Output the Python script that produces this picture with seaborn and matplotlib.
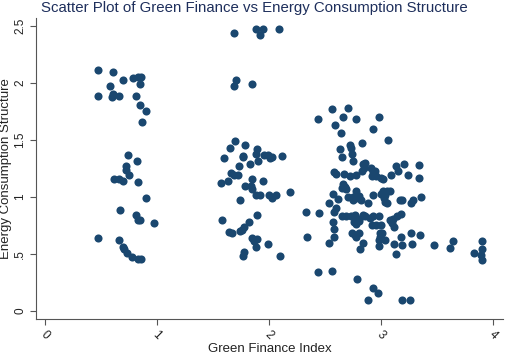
import pandas as pd
import seaborn as sns
import matplotlib.pyplot as plt

# cluster around 0.5-1.0
gf_1 = [0.47, 0.61, 0.58, 0.70, 0.79, 0.83, 0.86, 0.85, 0.47, 0.60, 0.61, 0.66, 0.81, 0.85, 0.90, 0.87,
        0.74, 0.82, 0.72, 0.72, 0.75, 0.62, 0.66, 0.70, 0.83, 0.90, 0.67, 0.81, 0.83, 0.85, 0.97,
        0.47, 0.66, 0.70, 0.71, 0.73, 0.78, 0.83, 0.86]
ec_1 = [2.11, 2.10, 1.97, 2.03, 2.04, 2.05, 2.05, 1.99, 1.89, 1.88, 1.90, 1.89, 1.89, 1.81, 1.75, 1.66,
        1.37, 1.32, 1.27, 1.24, 1.19, 1.16, 1.16, 1.14, 1.13, 0.99, 0.89, 0.84, 0.80, 0.80, 0.77,
        0.64, 0.62, 0.56, 0.54, 0.51, 0.47, 0.46, 0.46]

# cluster around 1.6-2.2
gf_2 = [1.69, 1.88, 1.95, 1.92, 2.09, 1.71, 1.69, 1.85,
        1.70, 1.65, 1.79, 1.60, 1.77, 1.77, 1.89, 1.88, 1.96, 1.99, 2.01, 2.03, 2.12, 1.90, 1.83, 1.73,
        1.66, 1.69, 1.72, 1.57, 1.63, 1.85, 1.95, 1.79, 1.84, 1.85, 1.88, 1.92, 2.00, 2.03, 2.06, 2.19, 1.74,
        1.58, 1.89, 1.82, 1.78, 1.76, 1.74, 1.64, 1.67, 1.85, 1.89, 1.87, 1.99, 1.88, 1.78, 1.77, 2.10]
ec_2 = [2.44, 2.47, 2.47, 2.42, 2.47, 2.03, 1.97, 1.99,
        1.49, 1.43, 1.46, 1.34, 1.36, 1.35, 1.42, 1.38, 1.37, 1.37, 1.34, 1.35, 1.36, 1.32, 1.29, 1.27,
        1.21, 1.19, 1.19, 1.12, 1.14, 1.16, 1.14, 1.10, 1.10, 1.07, 1.02, 1.02, 1.02, 0.99, 1.02, 1.04, 0.97,
        0.80, 0.84, 0.78, 0.74, 0.71, 0.70, 0.69, 0.68, 0.64, 0.63, 0.61, 0.59, 0.56, 0.52, 0.48, 0.48]

# cluster around 2.3-3.9
gf_3 = [2.44, 2.56, 2.71, 2.66, 2.78, 2.59, 2.98, 2.93, 2.64, 3.06, 2.83, 2.72, 2.73, 2.63, 2.74, 2.65, 2.75, 2.84,
        2.58, 2.60, 2.67, 2.72, 2.78, 2.83, 2.86, 2.85, 2.91, 2.93, 2.95, 2.92, 2.96, 3.00, 3.02, 3.09, 3.13,
        3.15, 3.21, 3.24, 3.34, 3.34,
        2.66, 2.68, 2.65, 2.69, 2.57, 2.62, 2.71, 2.75, 2.78, 2.80, 2.75, 2.82, 2.54, 2.78, 2.88,
        2.93, 3.00, 3.02, 3.04, 3.05, 3.08, 3.03, 3.05, 3.19, 3.29, 3.36, 3.04, 3.17, 3.27,
        2.33, 2.45, 2.58, 2.60, 2.65, 2.69, 2.73, 2.77, 2.80, 2.84, 2.86, 2.90, 2.93, 2.98, 3.08, 3.11, 3.14,
        3.18, 3.10, 3.12, 2.76, 2.78, 2.80,
        2.57, 2.58, 2.92, 2.96, 3.00, 3.01, 2.74, 2.77, 2.80, 2.78, 2.99, 2.99, 3.27, 3.35, 3.18,
        2.34, 2.54, 2.58, 2.84, 2.81, 2.98, 2.98, 3.04, 3.12, 3.19, 3.28, 3.47, 3.13, 3.64, 3.62,
        3.90, 3.90, 3.89, 3.90, 3.83,
        2.44, 2.56, 2.79, 2.93, 2.97, 2.88, 3.19, 3.26]
ec_3 = [1.68, 1.77, 1.78, 1.70, 1.68, 1.63, 1.70, 1.60, 1.56, 1.50, 1.47, 1.46, 1.43, 1.42, 1.38, 1.35, 1.32, 1.29,
        1.22, 1.20, 1.20, 1.18, 1.19, 1.23, 1.30, 1.25, 1.25, 1.22, 1.23, 1.18, 1.18, 1.17, 1.16, 1.19, 1.27,
        1.23, 1.29, 1.19, 1.28, 1.17,
        1.11, 1.09, 1.08, 1.07, 1.03, 0.98, 1.00, 1.00, 0.99, 1.01, 0.97, 0.97, 0.95, 1.05, 0.95,
        1.02, 1.03, 1.05, 1.02, 1.05, 1.05, 0.99, 0.95, 0.97, 0.97, 1.00, 0.96, 0.97, 0.95,
        0.87, 0.86, 0.87, 0.90, 0.83, 0.83, 0.83, 0.84, 0.81, 0.84, 0.83, 0.82, 0.83, 0.83, 0.80, 0.81, 0.83,
        0.85, 0.77, 0.74, 0.78, 0.76, 0.79,
        0.78, 0.72, 0.75, 0.75, 0.75, 0.68, 0.68, 0.67, 0.68, 0.65, 0.68, 0.65, 0.68, 0.67, 0.65,
        0.65, 0.60, 0.65, 0.60, 0.54, 0.62, 0.57, 0.62, 0.59, 0.58, 0.59, 0.58, 0.50, 0.61, 0.55,
        0.61, 0.54, 0.49, 0.45, 0.51,
        0.34, 0.35, 0.28, 0.20, 0.16, 0.10, 0.10, 0.10]

df = pd.DataFrame({'Green Finance Index': gf_1 + gf_2 + gf_3,
                   'Energy Consumption Structure': ec_1 + ec_2 + ec_3})

sns.set_style('white')
plt.rcParams['font.family'] = ['Liberation Sans', 'DejaVu Sans']

fig = plt.figure(figsize=(5.05, 3.54), dpi=100)
ax = fig.add_axes([0.0713, 0.0989, 0.9248, 0.8503])
sns.scatterplot(data=df, x='Green Finance Index', y='Energy Consumption Structure',
                color='#1a476f', s=34, linewidth=0, ax=ax)

ax.set_xlim(-0.08, 4.09)
ax.set_ylim(-0.07, 2.57)
ax.set_xticks([0, 1, 2, 3, 4])
ax.set_xticklabels(['0', '1', '2', '3', '4'], rotation=-45, ha='center')
ax.set_yticks([0, 0.5, 1, 1.5, 2, 2.5])
ax.set_yticklabels(['0', '.5', '1', '1.5', '2', '2.5'], rotation=90, va='center')
ax.tick_params(axis='both', direction='out', length=4, width=0.8, color='#555555',
               labelsize=8.5, labelcolor='#222222', left=True, bottom=True, pad=3)
for side in ['top', 'right']:
    ax.spines[side].set_visible(False)
for side in ['left', 'bottom']:
    ax.spines[side].set_color('#555555')
    ax.spines[side].set_linewidth(0.8)

ax.set_xlabel('Green Finance Index', fontsize=9.5, color='#222222')
ax.set_ylabel('Energy Consumption Structure', fontsize=9.5, color='#222222')
ax.xaxis.set_label_coords(0.5, -0.08)
ax.yaxis.set_label_coords(-0.051, 0.5)
fig.suptitle('Scatter Plot of Green Finance vs Energy Consumption Structure',
             fontsize=10.8, color='#1e2f5c', x=0.503, y=0.997, va='top')

plt.savefig('out.png', dpi=100)
